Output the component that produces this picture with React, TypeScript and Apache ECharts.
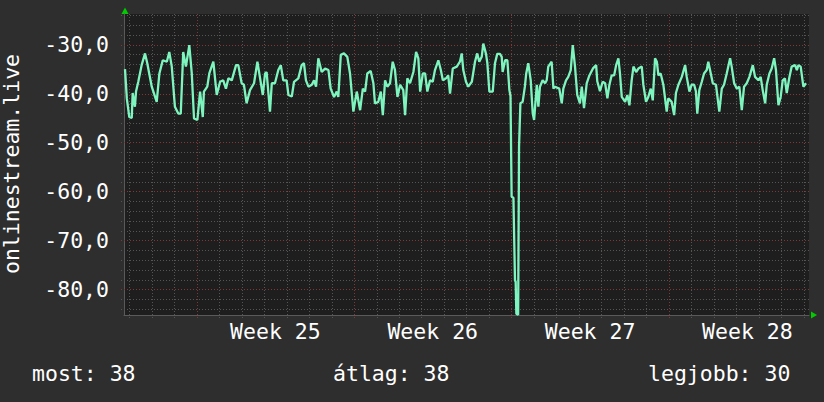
import React, { useEffect, useRef } from 'react';
import * as echarts from 'echarts';

// x: days relative to the start of Week 25; y: signal value
const dayOffsets = [
  -3.19, -3.11, -3.0, -2.89, -2.85, -2.75, -2.7, -2.6, -2.45, -2.3,
  -2.2, -2.0, -1.78, -1.66, -1.51, -1.33, -1.22, -1.11, -0.97, -0.82,
  -0.71, -0.6, -0.48, -0.33, -0.22, -0.12, 0.03, 0.15, 0.27, 0.32,
  0.47, 0.56, 0.74, 0.89, 1.04, 1.18, 1.3, 1.41, 1.56, 1.75,
  1.85, 2.0, 2.1, 2.22, 2.37, 2.55, 2.7, 2.82, 2.94, 3.04,
  3.11, 3.26, 3.34, 3.48, 3.63, 3.74, 3.85, 4.0, 4.08, 4.23,
  4.33, 4.52, 4.67, 4.77, 4.86, 4.97, 5.12, 5.22, 5.31, 5.41,
  5.56, 5.71, 5.86, 5.96, 6.11, 6.23, 6.3, 6.41, 6.55, 6.7,
  6.82, 6.97, 7.12, 7.27, 7.39, 7.49, 7.59, 7.74, 7.86, 7.93,
  8.08, 8.19, 8.28, 8.38, 8.48, 8.6, 8.72, 8.82, 8.93, 9.05,
  9.19, 9.27, 9.37, 9.49, 9.64, 9.76, 9.86, 9.94, 10.06, 10.16,
  10.26, 10.38, 10.5, 10.6, 10.75, 10.86, 10.95, 11.09, 11.19, 11.27,
  11.39, 11.57, 11.71, 11.79, 11.86, 11.98, 12.08, 12.24, 12.38, 12.48,
  12.57, 12.68, 12.75, 12.87, 12.93, 13.02, 13.17, 13.27, 13.37, 13.49,
  13.57, 13.61, 13.72, 13.82, 13.91, 13.96, 14.01, 14.09, 14.16, 14.19,
  14.22, 14.3, 14.34, 14.4, 14.5, 14.6, 14.66, 14.75, 14.86, 14.95,
  15.01, 15.13, 15.2, 15.27, 15.39, 15.5, 15.57, 15.64, 15.79, 15.87,
  15.94, 16.13, 16.24, 16.31, 16.43, 16.53, 16.64, 16.73, 16.83, 16.93,
  17.05, 17.13, 17.23, 17.35, 17.47, 17.64, 17.77, 17.82, 17.94, 18.06,
  18.17, 18.27, 18.36, 18.46, 18.57, 18.66, 18.76, 18.83, 18.91, 19.06,
  19.16, 19.25, 19.35, 19.43, 19.55, 19.65, 19.8, 19.87, 19.99, 20.09,
  20.2, 20.29, 20.39, 20.47, 20.54, 20.64, 20.76, 20.91, 20.98, 21.13,
  21.24, 21.32, 21.43, 21.58, 21.73, 21.8, 21.92, 22.02, 22.13, 22.21,
  22.27, 22.36, 22.47, 22.57, 22.69, 22.76, 22.87, 22.96, 23.1, 23.25,
  23.36, 23.46, 23.58, 23.73, 23.8, 23.91, 24.03, 24.14, 24.25, 24.35,
  24.47, 24.59, 24.74, 24.84, 24.99, 25.09, 25.18, 25.29, 25.36, 25.48,
  25.58, 25.69, 25.77, 25.88, 25.98, 26.07, 26.17, 26.25, 26.37, 26.47,
  26.62, 26.7, 26.77, 26.87, 26.99, 27.11,
];

const signalValues = [
  -35.0, -41.0, -44.8, -45.0, -39.9, -42.7, -39.6, -37.6, -34.2, -31.8,
  -33.8, -38.6, -41.7, -35.9, -33.2, -33.5, -31.5, -34.5, -42.7, -44.1,
  -44.1, -31.5, -34.5, -30.1, -35.9, -45.1, -45.4, -39.6, -44.8, -39.6,
  -38.6, -35.9, -33.5, -40.3, -37.6, -37.3, -39.0, -36.9, -37.3, -34.2,
  -34.2, -37.9, -38.2, -42.0, -39.3, -37.9, -33.5, -36.9, -40.3, -35.9,
  -35.6, -43.7, -37.9, -37.9, -35.2, -34.2, -37.3, -37.3, -40.3, -40.6,
  -37.6, -36.9, -34.2, -33.8, -37.3, -38.6, -38.2, -37.3, -38.6, -32.8,
  -35.6, -34.9, -35.2, -39.0, -40.7, -39.6, -40.7, -32.1, -31.8, -32.5,
  -35.9, -43.7, -39.6, -43.4, -39.0, -39.6, -35.9, -35.4, -37.9, -42.0,
  -41.7, -39.6, -44.4, -37.3, -38.6, -37.9, -33.5, -35.2, -40.7, -38.2,
  -39.3, -44.4, -36.9, -37.9, -35.6, -31.5, -32.8, -39.6, -35.9, -35.9,
  -39.6, -37.3, -37.6, -35.2, -33.2, -35.2, -37.3, -36.9, -36.3, -40.0,
  -34.9, -34.5, -33.5, -31.8, -35.2, -37.6, -38.6, -37.6, -33.5, -31.8,
  -33.5, -32.5, -29.8, -31.9, -33.8, -39.6, -39.6, -33.8, -31.9, -31.9,
  -32.5, -35.6, -33.2, -33.2, -39.3, -40.5, -61.1, -61.3, -78.2, -78.4,
  -85.0, -85.2, -50.9, -42.0, -41.7, -38.6, -35.9, -33.8, -37.3, -44.1,
  -45.4, -38.2, -42.7, -38.6, -37.3, -37.9, -37.3, -34.5, -33.5, -39.0,
  -38.6, -39.0, -42.0, -39.0, -37.3, -36.6, -35.2, -30.1, -34.5, -40.3,
  -42.0, -38.6, -43.0, -37.9, -36.3, -34.8, -34.2, -37.5, -39.5, -37.6,
  -37.9, -41.0, -38.2, -36.3, -36.3, -34.2, -32.8, -35.9, -40.7, -41.7,
  -40.3, -42.4, -37.3, -34.5, -35.6, -34.9, -34.5, -38.2, -41.7, -40.7,
  -39.0, -41.4, -32.8, -33.5, -36.3, -35.9, -38.2, -43.7, -41.0, -41.7,
  -44.4, -39.9, -38.2, -36.6, -34.2, -36.6, -39.6, -38.2, -38.2, -39.6,
  -44.1, -39.3, -37.6, -35.9, -35.2, -33.5, -35.9, -37.9, -38.2, -43.7,
  -39.0, -38.2, -35.9, -32.8, -34.5, -37.9, -39.0, -38.6, -43.4, -38.6,
  -37.9, -36.6, -34.2, -36.6, -37.3, -36.6, -39.3, -42.0, -38.2, -35.9,
  -34.9, -32.8, -35.2, -42.4, -40.7, -37.3, -36.9, -39.9, -36.6, -34.5,
  -34.2, -35.2, -34.2, -34.5, -38.6, -37.9,
];

const yTickValues = [-80, -70, -60, -50, -40, -30];
const weekLabels = ['Week 25', 'Week 26', 'Week 27', 'Week 28'];
const weekCenters = [3.5, 10.5, 17.5, 24.5];
const statLabels = ['most', 'átlag', 'legjobb'];
const statValues = [38, 38, 30];
const yAxisTitle = 'onlinestream.live';

const X_MIN = -3.235;
const X_MAX = 27.24;
const Y_MIN = -85.25;
const Y_MAX = -23.75;

const FONT = '"DejaVu Sans Mono", monospace';
const FONT_SIZE = 21.5;
const LINE_COLOR = '#7ef5bf';
const GRID_MINOR = '#555555';
const GRID_MAJOR = '#7e3838';
const ARROW = '#00cc00';

export default function App() {
  const ref = useRef<HTMLDivElement>(null);

  useEffect(() => {
    if (!ref.current) return;
    const chart = echarts.init(ref.current, null, { renderer: 'svg' });

    const seriesData = dayOffsets.map((d, i) => [d, signalValues[i]]);

    const gridItems: number[][] = [];
    for (let v = -84; v <= -24; v += 2) gridItems.push([X_MIN, v, 0, v % 10 === 0 ? 1 : 0]);
    for (let d = -3; d <= 27; d++) gridItems.push([d, Y_MIN, 1, d % 7 === 0 ? 1 : 0]);

    const statPositions = [32, 333, 648];

    chart.setOption({
      animation: false,
      backgroundColor: '#2e2e2e',
      grid: {
        left: 124,
        top: 14,
        width: 685,
        height: 301,
        show: true,
        backgroundColor: '#1e1e1e',
        borderWidth: 0,
      },
      xAxis: {
        type: 'value',
        min: X_MIN,
        max: X_MAX,
        axisLine: { show: true, onZero: false, lineStyle: { color: '#5a5a5a', width: 1 } },
        axisTick: { show: false },
        splitLine: { show: false },
        axisLabel: {
          show: true,
          customValues: weekCenters,
          formatter: (v: number) => {
            const idx = weekCenters.findIndex((c) => Math.abs(c - v) < 1e-6);
            return idx >= 0 ? weekLabels[idx] : '';
          },
          color: '#ffffff',
          fontFamily: FONT,
          fontSize: FONT_SIZE,
          margin: 16,
          verticalAlign: 'middle',
        },
      },
      yAxis: {
        type: 'value',
        min: Y_MIN,
        max: Y_MAX,
        axisLine: { show: true, onZero: false, lineStyle: { color: '#5a5a5a', width: 1 } },
        axisTick: { show: false },
        splitLine: { show: false },
        axisLabel: {
          show: true,
          customValues: yTickValues,
          formatter: (v: number) => v.toFixed(1).replace('.', ','),
          color: '#ffffff',
          fontFamily: FONT,
          fontSize: FONT_SIZE,
          margin: 15,
          verticalAlign: 'middle',
        },
      },
      graphic: [
        {
          type: 'text',
          x: 11,
          y: 164,
          rotation: Math.PI / 2,
          style: {
            text: yAxisTitle,
            fill: '#ffffff',
            fontFamily: FONT,
            fontSize: FONT_SIZE,
            align: 'center',
            verticalAlign: 'middle',
          },
        },
        ...statLabels.map((lab, i) => ({
          type: 'text',
          x: statPositions[i],
          y: 373,
          style: {
            text: `${lab}: ${statValues[i]}`,
            fill: '#ffffff',
            fontFamily: FONT,
            fontSize: FONT_SIZE,
            align: 'left',
            verticalAlign: 'middle',
          },
        })),
        {
          type: 'polygon',
          shape: { points: [[121.5, 14], [128.5, 14], [125, 7.5]] },
          style: { fill: ARROW },
        },
        {
          type: 'polygon',
          shape: { points: [[811, 311.5], [811, 318.5], [817, 315]] },
          style: { fill: ARROW },
        },
      ],
      series: [
        {
          type: 'custom',
          coordinateSystem: 'cartesian2d',
          silent: true,
          clip: false,
          z: 1,
          data: gridItems,
          renderItem: (params: any, api: any) => {
            const cs = params.coordSys;
            const kind = api.value(2);
            const major = api.value(3) === 1;
            const stroke = major ? GRID_MAJOR : GRID_MINOR;
            if (kind === 0) {
              const p = api.coord([X_MIN, api.value(1)]);
              const y = Math.round(p[1]) + 0.5;
              return {
                type: 'line',
                shape: { x1: cs.x - 3, y1: y, x2: cs.x + cs.width, y2: y },
                style: { stroke, lineWidth: 1, lineDash: [1, 2] },
              };
            }
            const p = api.coord([api.value(0), Y_MIN]);
            const x = Math.round(p[0]) + 0.5;
            return {
              type: 'line',
              shape: { x1: x, y1: cs.y, x2: x, y2: cs.y + cs.height + 3 },
              style: { stroke, lineWidth: 1, lineDash: [1, 2] },
            };
          },
        },
        {
          type: 'line',
          data: seriesData,
          showSymbol: false,
          symbol: 'none',
          z: 3,
          clip: true,
          lineStyle: { color: LINE_COLOR, width: 2.3 },
        },
      ],
    });

    return () => chart.dispose();
  }, []);

  return (
    <div
      ref={ref}
      style={{ position: 'fixed', left: 0, top: 0, width: 824, height: 402 }}
    />
  );
}
